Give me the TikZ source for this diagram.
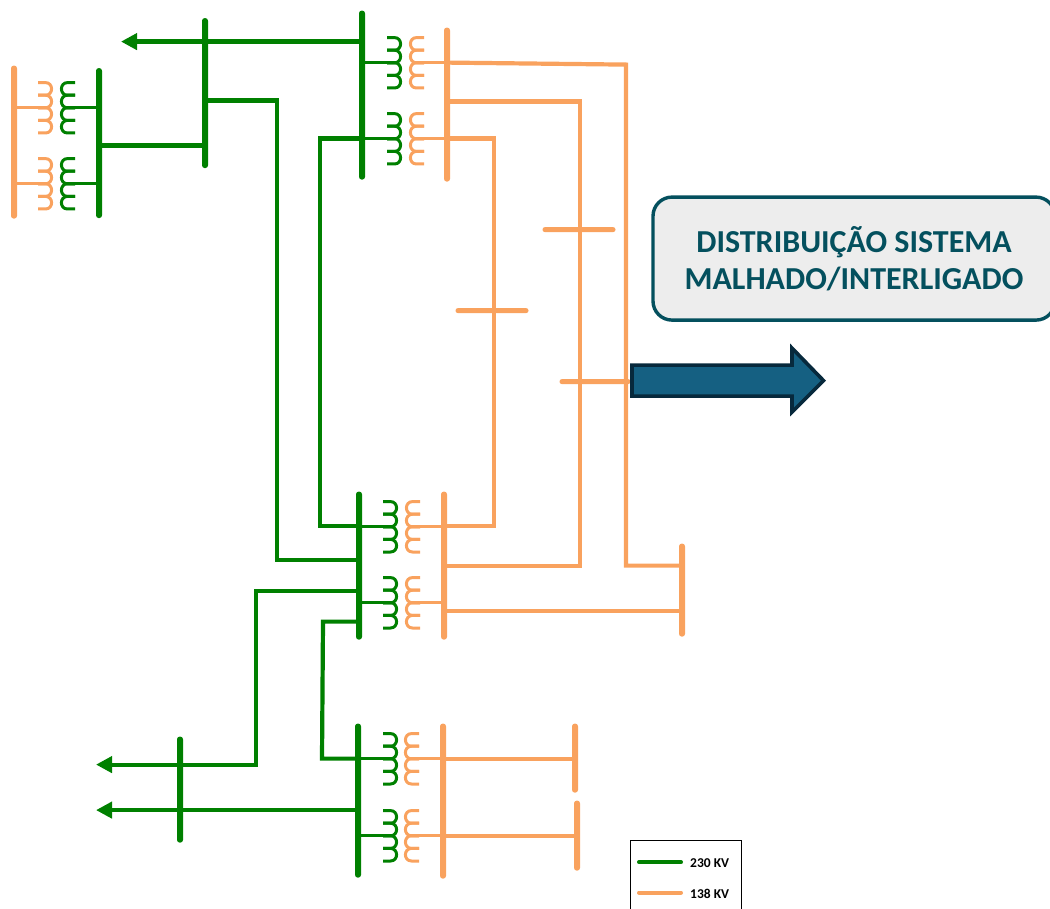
\documentclass[tikz,border=0pt]{standalone}
\usepackage{fontspec}
\setmainfont{Carlito}
\usetikzlibrary{arrows.meta}
\definecolor{gline}{HTML}{008000}
\definecolor{oline}{HTML}{F9A25E}
\definecolor{boxline}{HTML}{04505E}
\definecolor{boxfill}{HTML}{EDEDED}
\definecolor{arrfill}{HTML}{156082}
\definecolor{arrline}{HTML}{07293C}
\tikzset{
  x=1pt,y=-1pt,
  busbar/.style={rectangle,rounded corners=2.7pt,inner sep=0pt,minimum width=6pt,fill=#1,draw=none},
  hbar/.style={rectangle,rounded corners=2.4pt,inner sep=0pt,minimum height=5pt,fill=oline,draw=none},
  gwire/.style={draw=gline,line width=4.2pt,miter limit=10},
  owire/.style={draw=oline,line width=4.2pt,miter limit=10},
  glead/.style={draw=gline,line width=3pt},
  olead/.style={draw=oline,line width=3pt},
  tipline/.style={-{Triangle[length=16pt,width=16pt]}},
  pics/coilR/.style={code={
    \foreach \i in {0,12.6,25.2,37.8}{
      \draw[line width=3pt] (0,\i) -- (7.5,\i) .. controls (15.6,\i) and (15.6,\i+12.6) .. (7.5,\i+12.6) -- (0,\i+12.6);
    }
    \coordinate (-tap) at (11,25.2);
  }},
  pics/coilL/.style={code={
    \foreach \i in {0,12.6,25.2,37.8}{
      \draw[line width=3pt] (15,\i) -- (7.5,\i) .. controls (-0.6,\i) and (-0.6,\i+12.6) .. (7.5,\i+12.6) -- (15,\i+12.6);
    }
    \coordinate (-tap) at (4,25.2);
  }},
}
\begin{document}
\begin{tikzpicture}
\useasboundingbox (0,-0.6) rectangle (1050,908.4);
% bus bars
\node[busbar=oline,minimum height=153pt] (O1) at (14,141.5) {};
\node[busbar=gline,minimum height=150pt] (G1) at (99,142.5) {};
\node[busbar=gline,minimum height=150pt] (G2) at (205,92.5) {};
\node[busbar=gline,minimum height=169pt] (G3) at (362,94.5) {};
\node[busbar=oline,minimum height=154pt] (O2) at (447,104) {};
\node[busbar=gline,minimum height=148pt] (G4) at (359,565) {};
\node[busbar=oline,minimum height=148pt] (O3) at (444,565) {};
\node[busbar=gline,minimum height=154pt] (G5) at (358,800) {};
\node[busbar=oline,minimum height=155pt] (O4) at (443,800.5) {};
\node[busbar=gline,minimum height=106pt] (G6) at (180,789) {};
\node[busbar=oline,minimum height=69pt] (O5) at (575,757.5) {};
\node[busbar=oline,minimum height=70pt] (O6) at (577,835) {};
\node[busbar=oline,minimum height=93pt] (O7) at (682,589.5) {};
\node[hbar,minimum width=73pt] (H1) at (492,310) {};
\node[hbar,minimum width=73pt] (H2) at (579,229) {};
\node[hbar,minimum width=71pt] (H3) at (595,381) {};
% transformers
\pic[color=oline] (T1o) at (38,82) {coilR};
\pic[color=gline] (T1g) at (60,82) {coilL};
\pic[color=oline] (T2o) at (38,158) {coilR};
\pic[color=gline] (T2g) at (60,158) {coilL};
\pic[color=gline] (T3g) at (387,37) {coilR};
\pic[color=oline] (T3o) at (409,37) {coilL};
\pic[color=gline] (T4g) at (387,113) {coilR};
\pic[color=oline] (T4o) at (409,113) {coilL};
\pic[color=gline] (T5g) at (383,501) {coilR};
\pic[color=oline] (T5o) at (405,501) {coilL};
\pic[color=gline] (T6g) at (383,577) {coilR};
\pic[color=oline] (T6o) at (405,577) {coilL};
\pic[color=gline] (T7g) at (383,733) {coilR};
\pic[color=oline] (T7o) at (404,733) {coilL};
\pic[color=gline] (T8g) at (383,810) {coilR};
\pic[color=oline] (T8o) at (404,810) {coilL};
% transformer leads
\draw[olead] (O1.center |- T1o-tap) -- (T1o-tap);
\draw[glead] (T1g-tap) -- (G1.center |- T1g-tap);
\draw[olead] (O1.center |- T2o-tap) -- (T2o-tap);
\draw[glead] (T2g-tap) -- (G1.center |- T2g-tap);
\draw[glead] (G3.center |- T3g-tap) -- (T3g-tap);
\draw[olead] (T3o-tap) -- (O2.center |- T3o-tap);
\draw[glead] (G3.center |- T4g-tap) -- (T4g-tap);
\draw[olead] (T4o-tap) -- (O2.center |- T4o-tap);
\draw[glead] (G4.center |- T5g-tap) -- (T5g-tap);
\draw[olead] (T5o-tap) -- (O3.center |- T5o-tap);
\draw[glead] (G4.center |- T6g-tap) -- (T6g-tap);
\draw[olead] (T6o-tap) -- (O3.center |- T6o-tap);
\draw[glead] (G5.center |- T7g-tap) -- (T7g-tap);
\draw[olead] (T7o-tap) -- (O4.center |- T7o-tap);
\draw[glead] (G5.center |- T8g-tap) -- (T8g-tap);
\draw[olead] (T8o-tap) -- (O4.center |- T8o-tap);
% free arrow ends
\coordinate (A1) at (121,41);
\coordinate (A2) at (96,764);
\coordinate (A3) at (96,809.5);
% 230 kV lines
\draw[gwire,tipline] (G3.center |- A1) -- (A1);
\draw[gwire] (G1.center |- 0,145) -- (G2.center |- 0,145);
\draw[gwire] (G2.center |- 0,100) -- (277,100) -- (277,559) -- (G4.center |- 0,559);
\draw[gwire] (G3.center |- 0,138) -- (320,138) -- (320,525) -- (G4.center |- 0,525);
\draw[gwire,tipline] (G4.center |- 0,590) -- (256,590) -- (256,764) -- (A2);
\draw[gwire] (G4.center |- 0,621) -- (323,621) -- (322,758) -- (G5.center |- 0,758);
\draw[gwire,tipline] (G5.center |- A3) -- (A3);
% 138 kV lines
\draw[owire] (O2.center |- 0,62) -- (626,64) -- (626,565) -- (O7.center |- 0,565);
\draw[owire] (O2.center |- 0,101) -- (580,101) -- (580,565) -- (O3.center |- 0,565);
\draw[owire] (O2.center |- 0,138) -- (494,138) -- (494,525) -- (O3.center |- 0,525);
\draw[owire] (O3.center |- 0,610) -- (O7.center |- 0,610);
\draw[owire] (O4.center |- 0,758) -- (O5.center |- 0,758);
\draw[owire] (O4.center |- 0,835) -- (O6.center |- 0,835);
% label box
\node[draw=boxline,fill=boxfill,line width=3.4pt,rounded corners=19pt,minimum width=402pt,minimum height=123pt,inner sep=0pt,
      text=boxline,font=\bfseries\fontsize{32}{37}\selectfont,align=center] (box) at (854,258)
      {DISTRIBUIÇÃO SISTEMA\\MALHADO/INTERLIGADO};
% block arrow
\draw[fill=arrfill,draw=arrline,line width=3.6pt,miter limit=10]
  (632,364.5) -- (792,364.5) -- (792,347.5) -- (823.5,380) -- (792,411.5) -- (792,395.5) -- (632,395.5) -- cycle;
% legend
\draw[black,line width=0.9pt] (630,915) -- (630,840) -- (741,840) -- (741,915);
\coordinate (L1a) at (639,861.5);
\coordinate (L1b) at (681,861.5);
\coordinate (L2a) at (639,892);
\coordinate (L2b) at (681,892);
\draw[draw=gline,line width=4pt,line cap=round] (L1a) -- (L1b);
\draw[draw=oline,line width=4pt,line cap=round] (L2a) -- (L2b);
\node[anchor=west,inner sep=0pt,font=\bfseries\fontsize{13.5}{15}\selectfont] (L1) at (690,862.5) {230 KV};
\node[anchor=west,inner sep=0pt,font=\bfseries\fontsize{13.5}{15}\selectfont] (L2) at (690,893.5) {138 KV};
\end{tikzpicture}
\end{document}
